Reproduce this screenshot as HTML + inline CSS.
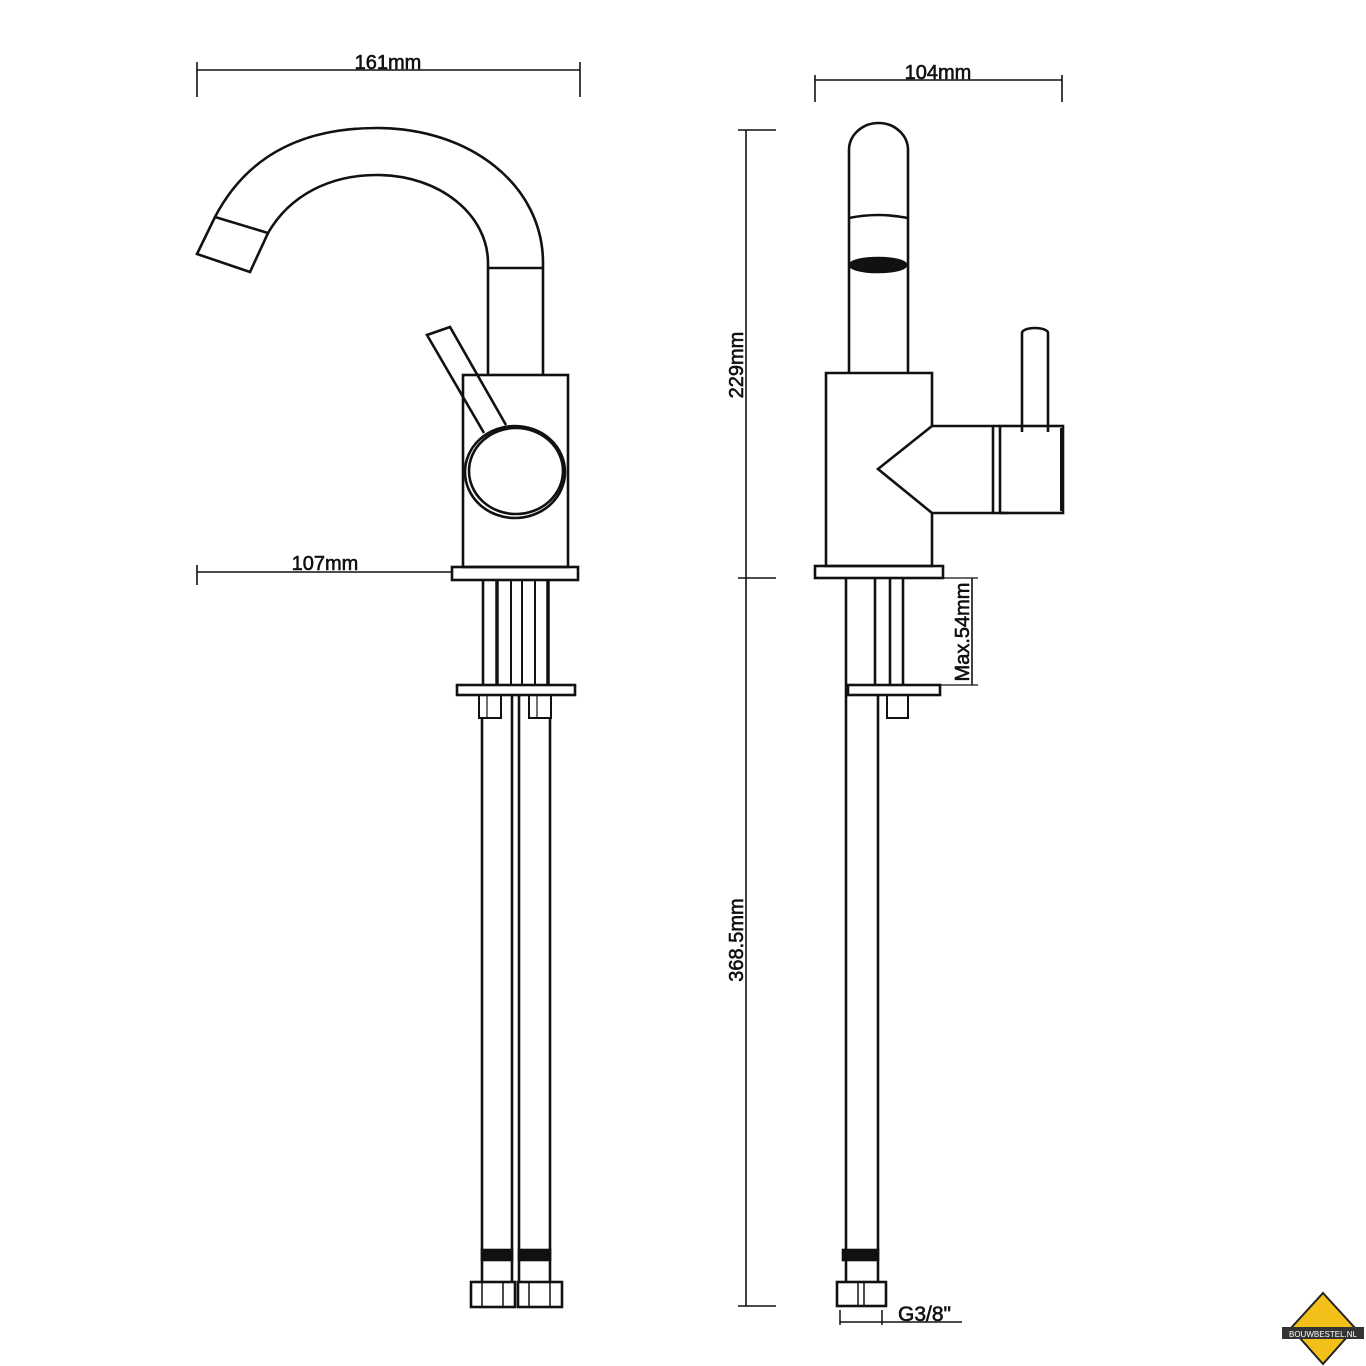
<!DOCTYPE html>
<html><head><meta charset="utf-8"><style>
html,body{margin:0;padding:0;background:#fff;width:1366px;height:1366px;overflow:hidden}
svg{display:block}
text{font-family:"Liberation Sans",sans-serif;fill:#111}
</style></head><body>
<svg width="1366" height="1366" viewBox="0 0 1366 1366" xmlns="http://www.w3.org/2000/svg">
<g fill="none" stroke="#111" stroke-width="2.6" stroke-linejoin="miter">
<!-- 161 dim -->
<line x1="197" y1="70" x2="580" y2="70" stroke-width="1.6"/>
<line x1="197" y1="62" x2="197" y2="97" stroke-width="1.6"/>
<line x1="580" y1="62" x2="580" y2="97" stroke-width="1.6"/>
<!-- spout -->
<path d="M215,217 C250,150 310,128 377,128 C470,128 543,185 543,263 L543,375"/>
<path d="M268,233 C290,195 330,175 377,175 C440,175 488,215 488,263 L488,375"/>
<path d="M215,217 L268,233 L250,272 L197,254 Z"/>
<line x1="488" y1="268" x2="543" y2="268"/>
<rect x="463" y="375" width="105" height="192"/>
<path d="M484,433 L427,335 L450,327 L506,425"/>
<ellipse cx="515" cy="472" rx="50" ry="46" fill="#fff"/>
<ellipse cx="516" cy="471" rx="47" ry="43"/>
<!-- base plate -->
<rect x="452" y="567" width="126" height="13"/>
<line x1="483" y1="580" x2="483" y2="685"/><line x1="497" y1="580" x2="497" y2="685" stroke-width="3.5"/>
<line x1="511" y1="580" x2="511" y2="685" stroke-width="2"/><line x1="522" y1="580" x2="522" y2="685" stroke-width="2"/>
<line x1="535" y1="580" x2="535" y2="685" stroke-width="2"/><line x1="548" y1="580" x2="548" y2="685" stroke-width="3.5"/>
<rect x="457" y="685" width="118" height="10"/>
<rect x="479" y="695" width="22" height="23" stroke-width="2"/>
<rect x="529" y="695" width="22" height="23" stroke-width="2"/>
<line x1="487" y1="695" x2="487" y2="718" stroke-width="1.2"/><line x1="537" y1="695" x2="537" y2="718" stroke-width="1.2"/>
<!-- hoses -->
<line x1="482" y1="718" x2="482" y2="1282"/><line x1="512" y1="695" x2="512" y2="1282"/>
<line x1="519" y1="695" x2="519" y2="1282"/><line x1="550" y1="718" x2="550" y2="1282"/>
<rect x="482" y="1250" width="30" height="10" fill="#111"/>
<rect x="519" y="1250" width="31" height="10" fill="#111"/>
<rect x="471" y="1282" width="44" height="25"/><rect x="518" y="1282" width="44" height="25"/>
<line x1="482" y1="1282" x2="482" y2="1307" stroke-width="1.5"/><line x1="503" y1="1282" x2="503" y2="1307" stroke-width="1.5"/>
<line x1="529" y1="1282" x2="529" y2="1307" stroke-width="1.5"/><line x1="550" y1="1282" x2="550" y2="1307" stroke-width="1.5"/>
<!-- 107 dim -->
<line x1="197" y1="572" x2="452" y2="572" stroke-width="1.6"/>
<line x1="197" y1="565" x2="197" y2="585" stroke-width="1.6"/>
<!-- vertical dims -->
<line x1="746" y1="130" x2="746" y2="1306" stroke-width="1.6"/>
<line x1="738" y1="130" x2="776" y2="130" stroke-width="1.6"/>
<line x1="738" y1="578" x2="776" y2="578" stroke-width="1.6"/>
<line x1="738" y1="1306" x2="776" y2="1306" stroke-width="1.6"/>
<!-- 104 dim -->
<line x1="815" y1="80" x2="1062" y2="80" stroke-width="1.6"/>
<line x1="815" y1="75" x2="815" y2="102" stroke-width="1.6"/>
<line x1="1062" y1="75" x2="1062" y2="102" stroke-width="1.6"/>
<!-- right view -->
<path d="M849,373 L849,150 A29.5,27 0 0 1 908,150 L908,373"/>
<path d="M849,218 Q878,212 908,218"/>
<ellipse cx="878" cy="265" rx="28" ry="7" fill="#111"/>
<path d="M826,373 L932,373 L932,426 L878,469 L932,513 L932,566 L826,566 Z"/>
<path d="M932,426 L993,426 L993,513 L932,513"/>
<path d="M993,426 L1000,426 M993,513 L1008,513"/>
<rect x="1000" y="426" width="63" height="87"/>
<line x1="1062" y1="428" x2="1062" y2="511" stroke-width="4"/>
<path d="M1022,432 L1022,333 A13,5 0 0 1 1048,333 L1048,432"/>
<rect x="815" y="566" width="128" height="12"/>
<line x1="846" y1="578" x2="846" y2="1282"/><line x1="878" y1="695" x2="878" y2="1282"/>
<line x1="875" y1="578" x2="875" y2="685"/><line x1="890" y1="578" x2="890" y2="685"/><line x1="903" y1="578" x2="903" y2="685"/>
<rect x="848" y="685" width="92" height="10"/>
<rect x="887" y="695" width="21" height="23" stroke-width="2"/>
<rect x="843" y="1250" width="35" height="10" fill="#111"/>
<rect x="837" y="1282" width="49" height="24"/>
<line x1="858" y1="1282" x2="858" y2="1306" stroke-width="1.5"/><line x1="864" y1="1282" x2="864" y2="1306" stroke-width="1.5"/>
<line x1="972" y1="578" x2="972" y2="685" stroke-width="1.6"/>
<line x1="940" y1="578" x2="978" y2="578" stroke-width="1.2"/>
<line x1="940" y1="685" x2="978" y2="685" stroke-width="1.2"/>
<line x1="840" y1="1310" x2="840" y2="1325" stroke-width="1.5"/><line x1="882" y1="1310" x2="882" y2="1325" stroke-width="1.5"/>
<line x1="840" y1="1322" x2="962" y2="1322" stroke-width="1.6"/>
</g>
<g font-size="20" stroke="#111" stroke-width="0.6">
<text x="388" y="69" text-anchor="middle">161mm</text>
<text x="325" y="570" text-anchor="middle">107mm</text>
<text x="938" y="79" text-anchor="middle">104mm</text>
<text x="898" y="1321" font-size="21">G3/8"</text>
<text x="0" y="0" transform="translate(743,365) rotate(-90)" text-anchor="middle">229mm</text>
<text x="0" y="0" transform="translate(743,940) rotate(-90)" text-anchor="middle">368.5mm</text>
<text x="0" y="0" transform="translate(969,632) rotate(-90)" text-anchor="middle">Max.54mm</text>
</g>
<!-- logo -->
<polygon points="1323,1293 1355,1328 1323,1364 1291,1328" fill="#f3c01a" stroke="#222" stroke-width="2"/>
<rect x="1282" y="1327" width="82" height="12" fill="#333"/>
<text x="1323" y="1337" font-size="8" text-anchor="middle" style="fill:#fff">BOUWBESTEL.NL</text>
</svg>
</body></html>
